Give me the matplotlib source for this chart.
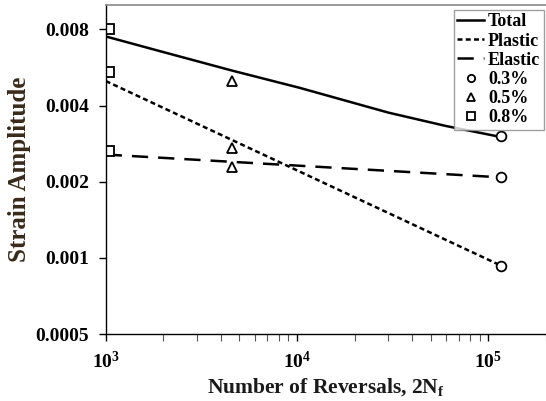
import matplotlib
matplotlib.use('AGG')
import matplotlib.pyplot as plt
from matplotlib.ticker import FixedLocator, NullLocator, LogLocator, NullFormatter

# strain-life data
LEVELS = ['0.3%', '0.5%', '0.8%']
MARKERS = ['o', '^', 's']
reversals = [117000, 4560, 1040]
total_amp = [0.00302, 0.0050, 0.0080]
plastic_amp = [0.00093, 0.00272, 0.00544]
elastic_amp = [0.00209, 0.00228, 0.00264]

# fitted curves
fit_x = [1000, 117000]
elastic_fit = [0.00256, 0.00208]
plastic_fit = [0.0050, 0.00093]
total_x = [1000, 1920, 4560, 10300, 30000, 60000, 117000]
total_fit = [0.0075, 0.00656, 0.0055, 0.0047, 0.00375, 0.00332, 0.0030]

YTICKS = [0.0005, 0.001, 0.002, 0.004, 0.008]
YTICKLABELS = ['0.0005', '0.001', '0.002', '0.004', '0.008']
XTICKS = [1e3, 1e4, 1e5]
XTICKLABELS = [r'$\mathbf{10^{3}}$', r'$\mathbf{10^{4}}$', r'$\mathbf{10^{5}}$']

SERIF = 'Liberation Serif'
plt.rcParams['font.family'] = SERIF
plt.rcParams['font.weight'] = 'bold'
plt.rcParams['axes.labelweight'] = 'bold'
plt.rcParams['mathtext.fontset'] = 'custom'
plt.rcParams['mathtext.rm'] = SERIF + ':bold'
plt.rcParams['mathtext.bf'] = SERIF + ':bold'
plt.rcParams['mathtext.it'] = SERIF + ':bold'

fig = plt.figure(figsize=(5.46, 4.01), dpi=100)
ax = fig.add_axes([0.1936, 0.167, 0.8064, 0.821])

ax.plot(total_x, total_fit, color='black', lw=1.8, label='Total')
ax.plot(fit_x, plastic_fit, color='black', lw=1.8, dashes=(2.0, 1.3), label='Plastic')
ax.plot(fit_x, elastic_fit, color='black', lw=1.8, dashes=(6.5, 4.0), label='Elastic')

for i, lev in enumerate(LEVELS):
    xs = [reversals[i]] * 3
    ys = [total_amp[i], plastic_amp[i], elastic_amp[i]]
    ax.plot(xs, ys, linestyle='none', marker=MARKERS[i], markersize=7,
            markerfacecolor='white', markeredgecolor='black', markeredgewidth=1.3,
            label=lev)

ax.set_xscale('log')
ax.set_yscale('log')
ax.set_xlim(1e3, 2e5)
ax.set_ylim(0.0005, 0.01)

ax.yaxis.set_major_locator(FixedLocator(YTICKS))
ax.yaxis.set_minor_locator(NullLocator())
ax.set_yticklabels(YTICKLABELS)
ax.xaxis.set_major_locator(FixedLocator(XTICKS))
ax.xaxis.set_minor_locator(LogLocator(base=10, subs=range(2, 10)))
ax.xaxis.set_minor_formatter(NullFormatter())
ax.set_xticklabels(XTICKLABELS)

ax.tick_params(axis='both', which='major', direction='out', length=5, width=1,
               labelsize=14, colors='black', pad=7)
ax.tick_params(axis='x', which='minor', direction='out', length=5, width=0.8, colors='#555555')
ax.tick_params(axis='x', which='major', pad=7)

for s in ['left', 'bottom']:
    ax.spines[s].set_color('black')
    ax.spines[s].set_linewidth(1.0)
ax.spines['top'].set_color('#888888')
ax.spines['top'].set_linewidth(1.2)
ax.spines['right'].set_visible(False)

ax.set_xlabel(r'Number of Reversals, $\mathbf{2N_f}$', fontsize=15.5, color='#1a1a1a', labelpad=3)
ax.set_ylabel('Strain Amplitude', fontsize=18, color='#3a2a1a', labelpad=3)

leg = ax.legend(loc='upper right', bbox_to_anchor=(0.995, 0.985), borderaxespad=0,
                fontsize=13, frameon=True, fancybox=False, handlelength=1.5,
                handletextpad=0.2, labelspacing=0.12, borderpad=0.2, markerscale=0.75)
leg.get_frame().set_edgecolor('#888888')
leg.get_frame().set_linewidth(1.0)

plt.savefig('out.png', dpi=100)
